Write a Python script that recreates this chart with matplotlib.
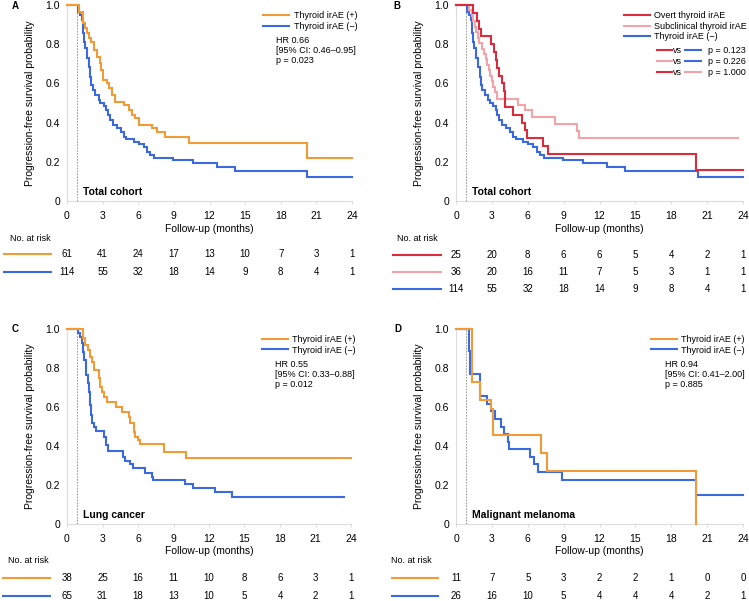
import matplotlib.pyplot as plt
import matplotlib.transforms as mtransforms
from matplotlib.lines import Line2D

plt.rcParams['font.family'] = ['Liberation Sans', 'DejaVu Sans']

ORANGE = '#F29A36'
BLUE = '#3A69E2'
RED = '#DC2C3B'
PINK = '#F4A3AB'

months = [0, 3, 6, 9, 12, 15, 18, 21, 24]

# ---- panel A / B : total cohort ----
a_pos_t = [0, 0.98, 1.35, 1.54, 1.69, 1.83, 2.02, 2.25, 2.53, 2.75, 2.89, 3.03, 3.37, 3.51,
           3.79, 4.07, 4.78, 5.20, 5.48, 5.76, 6.04, 7.16, 7.58, 8.29, 10.25, 20.2, 24]
a_pos_s = [1, 0.966, 0.906, 0.881, 0.855, 0.830, 0.813, 0.770, 0.736, 0.702, 0.668, 0.617, 0.600,
           0.575, 0.541, 0.507, 0.490, 0.464, 0.439, 0.422, 0.388, 0.371, 0.354, 0.328, 0.294,
           0.219, 0.219]
a_neg_t = [0, 0.93, 1.12, 1.26, 1.35, 1.46, 1.54, 1.69, 1.83, 1.97, 2.05, 2.19, 2.39, 2.67, 2.81,
           3.09, 3.31, 3.43, 3.60, 3.88, 4.21, 4.55, 4.78, 5.00, 5.62, 6.04, 6.46, 6.74, 7.02,
           7.36, 8.95, 10.64, 12.6, 14.15, 20.2, 24]
a_neg_s = [1, 0.966, 0.949, 0.923, 0.855, 0.813, 0.779, 0.728, 0.685, 0.634, 0.592, 0.566, 0.541,
           0.515, 0.498, 0.485, 0.464, 0.439, 0.413, 0.388, 0.371, 0.354, 0.328, 0.315, 0.303,
           0.291, 0.277, 0.252, 0.235, 0.218, 0.209, 0.192, 0.175, 0.155, 0.124, 0.124]
a_risk_pos = [61, 41, 24, 17, 13, 10, 7, 3, 1]
a_risk_neg = [114, 55, 32, 18, 14, 9, 8, 4, 1]

b_overt_t = [0, 1.45, 1.73, 1.92, 2.1, 2.93, 3.15, 3.32, 3.43, 3.60, 3.88, 4.01, 4.10, 4.79,
             5.49, 5.77, 5.91, 7.30, 7.66, 20.1, 24]
b_overt_s = [1, 0.96, 0.92, 0.88, 0.84, 0.80, 0.76, 0.72, 0.68, 0.64, 0.60, 0.56, 0.48, 0.44,
             0.40, 0.36, 0.32, 0.28, 0.24, 0.16, 0.16]
b_sub_t = [0, 1.11, 1.31, 1.45, 1.59, 1.67, 1.81, 1.95, 2.15, 2.31, 2.48, 2.62, 2.76, 2.87,
           2.98, 3.12, 3.26, 3.40, 5.21, 5.77, 6.33, 8.28, 10.09, 10.28, 23.6]
b_sub_s = [1, 0.972, 0.944, 0.917, 0.889, 0.861, 0.833, 0.806, 0.778, 0.750, 0.722, 0.694,
           0.667, 0.639, 0.611, 0.583, 0.556, 0.521, 0.490, 0.462, 0.430, 0.393, 0.357, 0.321,
           0.321]
b_risk_overt = [25, 20, 8, 6, 6, 5, 4, 2, 1]
b_risk_sub = [36, 20, 16, 11, 7, 5, 3, 1, 1]
b_pvals = ['p = 0.123', 'p = 0.226', 'p = 1.000']

# ---- panel C : lung cancer ----
c_pos_t = [0, 1.35, 1.55, 1.75, 1.92, 2.11, 2.25, 2.68, 2.82, 2.96, 3.10, 3.38, 4.17, 4.65,
           5.21, 5.35, 5.63, 5.77, 5.97, 6.20, 8.23, 10.08, 24]
c_pos_s = [1, 0.952, 0.918, 0.892, 0.858, 0.832, 0.790, 0.747, 0.704, 0.679, 0.653, 0.627,
           0.602, 0.576, 0.550, 0.516, 0.474, 0.448, 0.431, 0.409, 0.371, 0.340, 0.340]
c_neg_t = [0, 0.93, 1.13, 1.27, 1.35, 1.46, 1.58, 1.63, 1.75, 1.83, 1.92, 2.03, 2.11, 2.25,
           2.48, 3.13, 3.30, 3.49, 4.76, 4.90, 5.33, 5.61, 6.59, 7.16, 7.30, 9.97, 10.68,
           12.5, 13.92, 23.4]
c_neg_s = [1, 0.978, 0.961, 0.926, 0.884, 0.841, 0.798, 0.764, 0.721, 0.679, 0.610, 0.559,
           0.516, 0.499, 0.478, 0.448, 0.405, 0.374, 0.345, 0.323, 0.306, 0.289, 0.260, 0.243,
           0.226, 0.203, 0.186, 0.166, 0.140, 0.140]
c_risk_pos = [38, 25, 16, 11, 10, 8, 6, 3, 1]
c_risk_neg = [65, 31, 18, 13, 10, 5, 4, 2, 1]

# ---- panel D : malignant melanoma ----
d_pos_t = [0, 1.31, 2.0, 2.95, 3.08, 7.11, 7.58, 20.1]
d_pos_s = [1, 0.727, 0.636, 0.59, 0.455, 0.364, 0.273, 0.0]
d_neg_t = [0, 1.11, 1.2, 2.0, 2.6, 2.92, 3.29, 3.76, 4.04, 4.37, 4.46, 6.18, 6.55, 6.82,
           8.86, 20.1, 24]
d_neg_s = [1, 0.885, 0.769, 0.654, 0.615, 0.577, 0.538, 0.50, 0.462, 0.423, 0.385, 0.346,
           0.308, 0.269, 0.224, 0.149, 0.149]
d_risk_pos = [11, 7, 5, 3, 2, 2, 1, 0, 0]
d_risk_neg = [26, 16, 10, 5, 4, 4, 4, 2, 1]

lab_pos = 'Thyroid irAE (+)'
lab_neg = 'Thyroid irAE (\u2212)'

W, H = 749, 601
fig = plt.figure(figsize=(W / 100, H / 100), dpi=100)


def add_ax(l, t, r, b):
    return fig.add_axes([l / W, 1 - b / H, (r - l) / W, (b - t) / H])


def style(ax, subtitle):
    ax.set_xlim(0, 24)
    ax.set_ylim(0, 1)
    for s in ['top', 'right']:
        ax.spines[s].set_visible(False)
    for s in ['left', 'bottom']:
        ax.spines[s].set_color('#dcdcdc')
        ax.spines[s].set_linewidth(0.8)
    ax.set_xticks(months)
    ax.set_yticks([0, 0.2, 0.4, 0.6, 0.8, 1.0])
    ax.set_yticklabels(['0', '0.2', '0.4', '0.6', '0.8', '1.0'])
    ax.tick_params(axis='x', length=2, color='#dcdcdc', pad=5, labelsize=7.5)
    ax.tick_params(axis='y', length=0, pad=5, labelsize=7.5)
    ax.set_xlabel('Follow-up (months)', fontsize=7.5)
    ax.xaxis.set_label_coords(0.5, -0.115)
    ax.set_ylabel('Progression-free survival probability', fontsize=7.5)
    ax.yaxis.set_label_coords(-0.112, 0.5)
    ax.axvline(0.85, color='#8a8a8a', lw=0.6, ls=(0, (2, 1.5)), zorder=1)
    ax.text(0.057, 0.046, subtitle, transform=ax.transAxes, fontsize=7.5,
            fontweight='bold', va='center', ha='left')


def curve(ax, t, s, color):
    ax.step(t, s, where='post', color=color, lw=1.5, clip_on=False, zorder=3,
            solid_joinstyle='miter')


def legend(ax, colors, labels, right):
    handles = [Line2D([], [], color=c, lw=1.5) for c in colors]
    ax.legend(handles, labels, loc='upper right', bbox_to_anchor=(right, 0.97),
              frameon=False, fontsize=6.5, handlelength=2.9, handletextpad=0.5,
              labelspacing=0.2, borderpad=0, borderaxespad=0)


def risk_table(ax, rows, colors, ys, x0, x1, xl):
    trans = mtransforms.blended_transform_factory(ax.transData, ax.transAxes)
    ax.text(xl, -0.189, 'No. at risk', transform=trans, ha='center', va='center',
            fontsize=6.5)
    for counts, c, y in zip(rows, colors, ys):
        ax.plot([x0, x1], [y, y], color=c, lw=1.5, transform=trans, clip_on=False)
        for m, n in zip(months, counts):
            ax.text(m, y, str(n), transform=trans, ha='center', va='center', fontsize=7)


# A
ax = add_ax(67, 5, 352, 201)
style(ax, 'Total cohort')
curve(ax, a_neg_t, a_neg_s, BLUE)
curve(ax, a_pos_t, a_pos_s, ORANGE)
legend(ax, [ORANGE, BLUE], [lab_pos, lab_neg], 1.018)
ax.text(0.733, 0.842, 'HR 0.66\n[95% CI: 0.46\u20130.95]\np = 0.023', transform=ax.transAxes,
        fontsize=6.5, va='top', ha='left', linespacing=1.15)
risk_table(ax, [a_risk_pos, a_risk_neg], [ORANGE, BLUE], [-0.272, -0.364], -5.3, -1.35, -3.1)

# B
ax = add_ax(456, 5, 743, 201)
style(ax, 'Total cohort')
curve(ax, a_neg_t, a_neg_s, BLUE)
curve(ax, b_sub_t, b_sub_s, PINK)
curve(ax, b_overt_t, b_overt_s, RED)
legend(ax, [RED, PINK, BLUE], ['Overt thyroid irAE', 'Subclinical thyroid irAE', lab_neg], 1.014)
pairs = [(RED, BLUE), (PINK, BLUE), (RED, PINK)]
for (c1, c2), p, y in zip(pairs, b_pvals, [0.770, 0.714, 0.658]):
    ax.plot([0.700, 0.752], [y, y], color=c1, lw=1.5, transform=ax.transAxes, clip_on=False)
    ax.text(0.757, y, 'vs', transform=ax.transAxes, fontsize=6.5, va='center', ha='left')
    ax.plot([0.797, 0.852], [y, y], color=c2, lw=1.5, transform=ax.transAxes, clip_on=False)
    ax.text(0.878, y, p, transform=ax.transAxes, fontsize=6.5, va='center', ha='left')
risk_table(ax, [b_risk_overt, b_risk_sub, a_risk_neg], [RED, PINK, BLUE],
           [-0.276, -0.362, -0.449], -5.27, -1.25, -3.2)

# C
ax = add_ax(67, 329, 351, 524)
style(ax, 'Lung cancer')
curve(ax, c_neg_t, c_neg_s, BLUE)
curve(ax, c_pos_t, c_pos_s, ORANGE)
legend(ax, [ORANGE, BLUE], [lab_pos, lab_neg], 1.018)
ax.text(0.733, 0.842, 'HR 0.55\n[95% CI: 0.33\u20130.88]\np = 0.012', transform=ax.transAxes,
        fontsize=6.5, va='top', ha='left', linespacing=1.15)
risk_table(ax, [c_risk_pos, c_risk_neg], [ORANGE, BLUE], [-0.277, -0.369], -5.4, -1.4, -3.3)

# D
ax = add_ax(456, 329, 743, 524)
style(ax, 'Malignant melanoma')
curve(ax, d_neg_t, d_neg_s, BLUE)
curve(ax, d_pos_t, d_pos_s, ORANGE)
legend(ax, [ORANGE, BLUE], [lab_pos, lab_neg], 1.007)
ax.text(0.728, 0.842, 'HR 0.94\n[95% CI: 0.41\u20132.00]\np = 0.885', transform=ax.transAxes,
        fontsize=6.5, va='top', ha='left', linespacing=1.15)
risk_table(ax, [d_risk_pos, d_risk_neg], [ORANGE, BLUE], [-0.277, -0.369], -5.35, -1.5, -3.7)

for letter, x, y in [('A', 12, 6), ('B', 393, 6), ('C', 12, 329), ('D', 394, 329)]:
    fig.text(x / W, 1 - y / H, letter, fontsize=7, fontweight='bold', ha='left', va='center')

fig.savefig('out.png', dpi=100)
